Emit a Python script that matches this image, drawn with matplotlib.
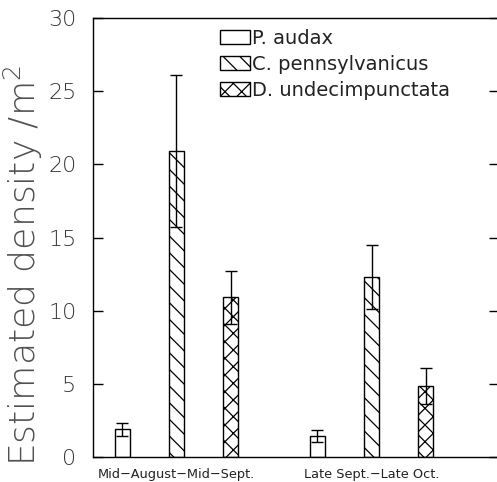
import matplotlib
matplotlib.use("Agg")
import matplotlib.pyplot as plt
import numpy as np

periods = ["Mid\u2212August\u2212Mid\u2212Sept.", "Late Sept.\u2212Late Oct."]
species = ["P. audax", "C. pennsylvanicus", "D. undecimpunctata"]
means = {
    "P. audax": [1.9, 1.45],
    "C. pennsylvanicus": [20.9, 12.3],
    "D. undecimpunctata": [10.9, 4.85],
}
errors = {
    "P. audax": [0.45, 0.4],
    "C. pennsylvanicus": [5.2, 2.2],
    "D. undecimpunctata": [1.8, 1.2],
}
yticks = [0, 5, 10, 15, 20, 25, 30]
hatches = ["", "\\\\", "xx"]

plt.rcParams["font.family"] = ["DejaVu Sans"]
plt.rcParams["mathtext.fontset"] = "custom"
plt.rcParams["mathtext.rm"] = "DejaVu Sans:light"
plt.rcParams["mathtext.it"] = "DejaVu Sans:light"
plt.rcParams["hatch.linewidth"] = 0.9
plt.rcParams["hatch.color"] = "black"

W, H = 497, 482
fig = plt.figure(figsize=(W / 100, H / 100), dpi=100)
left, right, top, bottom = 93, 499, 18, 457
ax = fig.add_axes([left / W, (H - bottom) / H, (right - left) / W, (bottom - top) / H])

step = 1.0
gap = 1.6
bw = 0.28
for si, sp in enumerate(species):
    xs = [gi * (2 * step + gap) + si * step for gi in range(len(periods))]
    ax.bar(xs, means[sp], width=bw, facecolor="white", edgecolor="black",
           linewidth=1.0, hatch=hatches[si], zorder=2, label=sp)
    ax.errorbar(xs, means[sp], yerr=errors[sp], fmt="none", ecolor="black",
                elinewidth=1.0, capsize=4, capthick=1.0, zorder=3)

ax.set_xlim(-0.54, 6.95)
ax.set_ylim(0, 30)
ax.set_yticks(yticks)
ax.set_yticklabels([str(t) for t in yticks], fontsize=16, color="#333333",
                   fontweight="light")
ax.tick_params(axis="y", direction="in", length=7, width=1.0, pad=12,
               right=True, left=True)
ax.set_xticks([1 * step, (2 * step + gap) + step])
ax.set_xticklabels(periods, fontsize=9.3, color="#222222")
ax.tick_params(axis="x", length=0, pad=8)
for s in ax.spines.values():
    s.set_linewidth(1.0)
ax.spines["right"].set_visible(False)

fig.text(23 / W, 1 - 265 / H, "Estimated density /m$^2$", fontsize=26,
         color="#505050", rotation=90, ha="center", va="center",
         fontweight="light")

leg = ax.legend(loc="upper left",
                bbox_to_anchor=((220 - left) / (right - left), 1 - 11 / (bottom - top)),
                frameon=False, fontsize=14, handlelength=1.55, handleheight=0.7,
                handletextpad=0.12, labelspacing=0.36, borderaxespad=0, borderpad=0)
for t in leg.get_texts():
    t.set_color("#222222")

fig.savefig("out.png", dpi=100, facecolor="white")
